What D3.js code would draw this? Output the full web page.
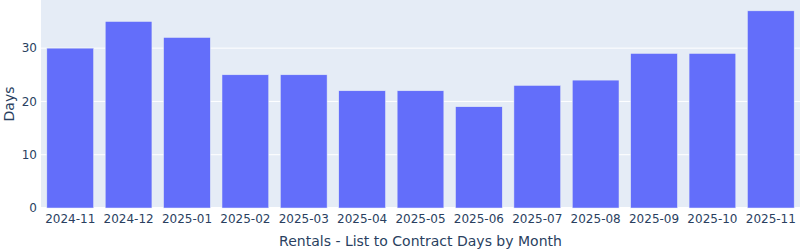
<!DOCTYPE html>
<head>
    <script src="https://d3js.org/d3.v7.min.js"></script>
</head>
<style>
body { margin: 0; background: #fff; font-family: "DejaVu Sans", verdana, arial, sans-serif; }
</style>
<body>
    <svg></svg>
</body>
<script>
    // data
    var months = ["2024-11", "2024-12", "2025-01", "2025-02", "2025-03", "2025-04", "2025-05",
                  "2025-06", "2025-07", "2025-08", "2025-09", "2025-10", "2025-11"];
    var days = [30, 35, 32, 25, 25, 22, 22, 19, 23, 24, 29, 29, 37];
    var yTicks = [0, 10, 20, 30];

    var width = 800, height = 250;
    var margin = {left: 41, right: 0, top: 0, bottom: 42};
    var innerW = width - margin.left - margin.right;
    var innerH = height - margin.top - margin.bottom;
    var font = '"DejaVu Sans", verdana, arial, sans-serif';

    var svg = d3.select('svg').attr('width', width).attr('height', height);

    var x = d3.scaleBand().domain(months).range([0, innerW]).paddingInner(0.2).paddingOuter(0.1);
    var y = d3.scaleLinear().domain([0, d3.max(days) * 1.055]).range([innerH, 0]);

    var g = svg.append('g').attr('transform', 'translate(' + margin.left + ',' + margin.top + ')');

    g.append('rect').attr('width', innerW).attr('height', innerH).attr('fill', '#e5ecf6');

    // grid
    g.selectAll('.grid').data(yTicks).enter().append('line')
        .attr('x1', 0).attr('x2', innerW)
        .attr('y1', function (d) { return y(d); }).attr('y2', function (d) { return y(d); })
        .attr('stroke', '#fff').attr('stroke-width', function (d) { return d === 0 ? 2 : 1; });

    // bars
    g.selectAll('.bar').data(days).enter().append('rect')
        .attr('x', function (d, i) { return x(months[i]); })
        .attr('y', function (d) { return y(d); })
        .attr('width', x.bandwidth())
        .attr('height', function (d) { return innerH - y(d); })
        .attr('fill', '#636efa')
        .attr('stroke', '#e5ecf6').attr('stroke-width', 0.5);

    // y axis labels
    var yAxis = g.append('g').call(d3.axisLeft(y).tickValues(yTicks).tickSize(0).tickPadding(4));
    yAxis.select('.domain').remove();
    yAxis.selectAll('text').attr('font-size', 12).attr('fill', '#2a3f5f').attr('font-family', font);

    // x axis labels
    var xAxis = g.append('g').attr('transform', 'translate(0,' + innerH + ')')
        .call(d3.axisBottom(x).tickSize(0).tickPadding(6));
    xAxis.select('.domain').remove();
    xAxis.selectAll('text').attr('font-size', 12).attr('fill', '#2a3f5f').attr('font-family', font);

    // titles
    svg.append('text')
        .attr('x', margin.left + innerW / 2).attr('y', 246)
        .attr('text-anchor', 'middle').attr('font-size', 14).attr('fill', '#2a3f5f')
        .attr('font-family', font)
        .text('Rentals - List to Contract Days by Month');

    svg.append('text')
        .attr('transform', 'translate(14,' + (margin.top + innerH / 2) + ')rotate(-90)')
        .attr('text-anchor', 'middle').attr('font-size', 14).attr('fill', '#2a3f5f')
        .attr('font-family', font)
        .text('Days');
</script>
